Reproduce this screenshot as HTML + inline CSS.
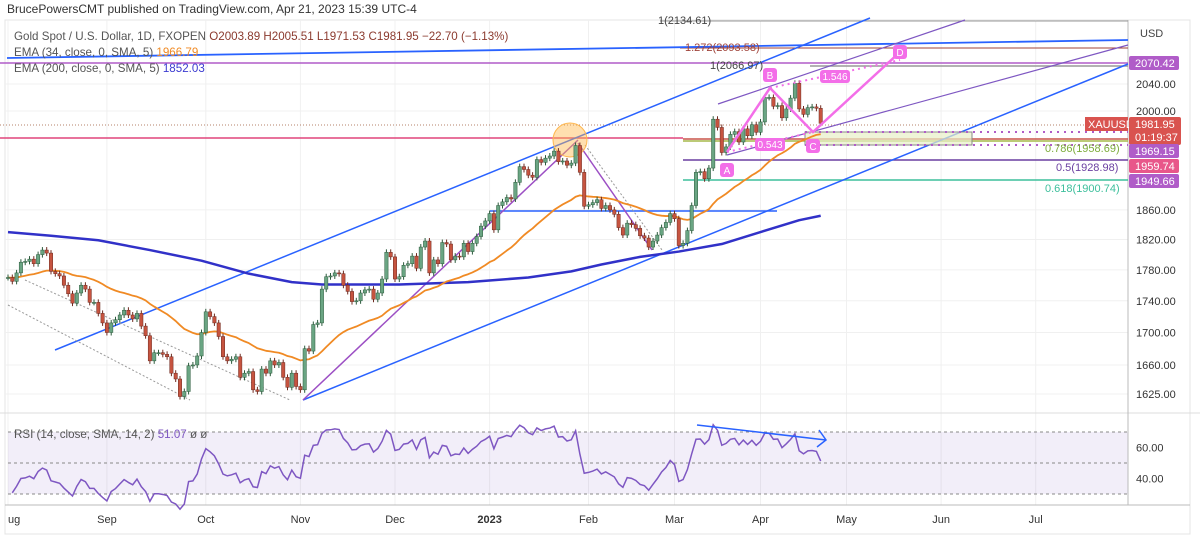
<!DOCTYPE html>
<html><head><meta charset="utf-8"><style>
html,body{margin:0;padding:0;background:#fff;width:1200px;height:540px;overflow:hidden}
svg{display:block;font-family:"Liberation Sans",sans-serif}
</style></head><body>
<svg id="c" width="1200" height="540" viewBox="0 0 1200 540">
<rect x="0" y="0" width="1200" height="540" fill="#fff"/>
<text x="7" y="13" font-size="12" fill="#333">BrucePowersCMT published on TradingView.com, Apr 21, 2023 15:39 UTC-4</text>
<rect x="5" y="20" width="1185" height="514" fill="none" stroke="#e4e4e4"/>
<g id="grid"></g>
<rect x="8" y="432" width="1120" height="62" fill="#7e57c2" fill-opacity="0.1"/>
<line x1="8" y1="432" x2="1128" y2="432" stroke="#888" stroke-dasharray="3,3"/>
<line x1="8" y1="463" x2="1128" y2="463" stroke="#888" stroke-dasharray="3,3"/>
<line x1="8" y1="494" x2="1128" y2="494" stroke="#888" stroke-dasharray="3,3"/>
<line x1="0" y1="413" x2="1200" y2="413" stroke="#ddd"/>
<line x1="1128" y1="20" x2="1128" y2="505" stroke="#bbb"/>
<line x1="5" y1="505" x2="1190" y2="505" stroke="#bbb"/>
<g id="draw">
 <line x1="0" y1="125" x2="1128" y2="125" stroke="#b5806a" stroke-dasharray="1,2"/>
 <line x1="0" y1="138" x2="683" y2="138" stroke="#e0457b" stroke-width="1.5"/>
 <line x1="683" y1="139" x2="1128" y2="139" stroke="#c8554a" stroke-width="1.5"/>
 <line x1="683" y1="141" x2="1128" y2="141" stroke="#a5b94a" stroke-width="1.5"/>
 <line x1="683" y1="160" x2="1128" y2="160" stroke="#6a3fa0" stroke-width="1.5"/>
 <line x1="683" y1="180" x2="1128" y2="180" stroke="#3dbf9c" stroke-width="1.5"/>
 <line x1="660" y1="21" x2="1128" y2="21" stroke="#999"/>
 <line x1="680" y1="48" x2="1128" y2="48" stroke="#a0433a"/>
 <line x1="0" y1="63" x2="1128" y2="63" stroke="#b05cc8" stroke-width="1.5"/>
 <line x1="810" y1="66" x2="1128" y2="66" stroke="#999" stroke-width="1.5"/>
 <line x1="7" y1="58" x2="1128" y2="40" stroke="#2962ff" stroke-width="1.8"/>
 <line x1="55" y1="350" x2="870" y2="18" stroke="#2962ff" stroke-width="1.5"/>
 <line x1="303" y1="400" x2="1128" y2="64" stroke="#2962ff" stroke-width="1.5"/>
 <line x1="490" y1="211" x2="777" y2="211" stroke="#2962ff" stroke-width="1.5"/>
 <line x1="303" y1="400" x2="578" y2="140" stroke="#9c4fc4" stroke-width="1.5"/>
 <line x1="578" y1="143" x2="652" y2="250" stroke="#9c4fc4" stroke-width="1.5"/>
 <line x1="8" y1="305" x2="190" y2="400" stroke="#999" stroke-dasharray="2,2"/>
 <line x1="25" y1="280" x2="290" y2="400" stroke="#999" stroke-dasharray="2,2"/>
 <line x1="585" y1="145" x2="662" y2="250" stroke="#999" stroke-dasharray="2,2"/>
 <line x1="718" y1="104" x2="965" y2="20" stroke="#7e57c2" stroke-width="1.2"/>
 <line x1="727" y1="155" x2="1128" y2="45" stroke="#7e57c2" stroke-width="1.2"/>
 <rect x="805" y="132" width="167" height="13" fill="#e8efc8" fill-opacity="0.7" stroke="#888"/>
 <line x1="805" y1="132" x2="1128" y2="132" stroke="#b05cc8" stroke-width="2" stroke-dasharray="2,5"/>
 <line x1="805" y1="145" x2="1128" y2="145" stroke="#b05cc8" stroke-width="2" stroke-dasharray="2,5"/>
 <circle cx="570" cy="140" r="17" fill="#ffb74d" fill-opacity="0.45" stroke="#ffb74d"/>
</g>
<g id="ema200"></g>
<g id="ema34"></g>
<g id="candles"></g>
<g id="abcd">
 <polyline points="727,152 770,88 813,132 900,52" fill="none" stroke="#f36ee8" stroke-width="2.5"/>
 <line x1="727" y1="152" x2="813" y2="132" stroke="#f36ee8" stroke-width="2" stroke-dasharray="2,4"/>
 <line x1="770" y1="88" x2="900" y2="60" stroke="#f36ee8" stroke-width="2" stroke-dasharray="2,4"/>
 <rect x="720" y="163" width="14" height="14" rx="3" fill="#f36ee8"/><text x="727" y="174" font-size="10" fill="#fff" text-anchor="middle">A</text>
 <rect x="763" y="68" width="14" height="14" rx="3" fill="#f36ee8"/><text x="770" y="79" font-size="10" fill="#fff" text-anchor="middle">B</text>
 <rect x="806" y="139" width="14" height="14" rx="3" fill="#f36ee8"/><text x="813" y="150" font-size="10" fill="#fff" text-anchor="middle">C</text>
 <rect x="893" y="45" width="14" height="14" rx="3" fill="#f36ee8"/><text x="900" y="56" font-size="10" fill="#fff" text-anchor="middle">D</text>
 <rect x="755" y="138" width="30" height="13" rx="3" fill="#f36ee8"/><text x="770" y="148" font-size="10" fill="#fff" text-anchor="middle">0.543</text>
 <rect x="820" y="70" width="30" height="13" rx="3" fill="#f36ee8"/><text x="835" y="80" font-size="10" fill="#fff" text-anchor="middle">1.546</text>
</g>
<g font-size="11">
 <text x="658" y="24" fill="#444">1(2134.61)</text>
 <text x="685" y="51" fill="#a0433a">1.272(2093.58)</text>
 <text x="710" y="69" fill="#444">1(2066.97)</text>
 <text x="1045" y="152" fill="#7cab3a">0.786(1958.69)</text>
 <text x="1056" y="171" fill="#6a3fa0">0.5(1928.98)</text>
 <text x="1045" y="192" fill="#3dbf9c">0.618(1900.74)</text>
</g>
<g font-size="11.6">
 <text x="14" y="40" fill="#555">Gold Spot / U.S. Dollar, 1D, FXOPEN <tspan fill="#8b3a2e">O2003.89 H2005.51 L1971.53 C1981.95 −22.70 (−1.13%)</tspan></text>
 <text x="14" y="56" fill="#555">EMA (34, close, 0, SMA, 5) <tspan fill="#f08a24">1966.79</tspan></text>
 <text x="14" y="72" fill="#555">EMA (200, close, 0, SMA, 5) <tspan fill="#3b3bd0">1852.03</tspan></text>
 <text x="14" y="438" fill="#555">RSI (14, close, SMA, 14, 2) <tspan fill="#7e57c2">51.07</tspan> ø ø</text>
</g>
<g id="rsi"></g>
<line x1="697" y1="425" x2="826" y2="440" stroke="#2962ff" stroke-width="1.5"/>
<polyline points="819,430 826,440 817,447" fill="none" stroke="#2962ff" stroke-width="1.5"/>
<g id="axis" font-size="11" fill="#333"></g>
<g id="tags" font-size="11">
 <text x="1140" y="37" fill="#444">USD</text>
 <rect x="1129" y="56" width="50" height="14" rx="2" fill="#b05cc8"/><text x="1135" y="67" fill="#fff">2070.42</text>
 <rect x="1085" y="117" width="43" height="14" fill="#d9534f"/><text x="1088" y="128" fill="#fff">XAUUSD</text>
 <rect x="1129" y="117" width="52" height="28" rx="2" fill="#d9534f"/><text x="1135" y="128" fill="#fff">1981.95</text><text x="1135" y="141" fill="#fff">01:19:37</text>
 <rect x="1129" y="144" width="50" height="14" rx="2" fill="#b05cc8"/><text x="1135" y="155" fill="#fff">1969.15</text>
 <rect x="1129" y="159" width="50" height="14" rx="2" fill="#e8578a"/><text x="1135" y="170" fill="#fff">1959.74</text>
 <rect x="1129" y="174" width="50" height="14" rx="2" fill="#b05cc8"/><text x="1135" y="185" fill="#fff">1949.66</text>
</g>
</svg>
<script>
var closes=[1770,1765,1776,1790,1791,1794,1788,1800,1806,1802,1778,1775,1772,1760,1749,1737,1750,1760,1755,1738,
1738,1724,1712,1700,1712,1716,1722,1728,1722,1717,1724,1708,1696,1665,1675,1675,1673,1670,1650,1643,
1622,1628,1659,1660,1671,1700,1726,1720,1712,1695,1670,1665,1667,1670,1645,1650,1652,1630,1628,1655,
1650,1665,1660,1663,1645,1633,1650,1634,1630,1680,1677,1710,1712,1755,1771,1772,1776,1775,1760,1752,
1739,1740,1750,1754,1755,1742,1750,1768,1803,1797,1768,1771,1786,1788,1798,1782,1810,1818,1776,1793,
1788,1816,1814,1793,1798,1797,1815,1804,1815,1824,1838,1845,1855,1833,1866,1871,1877,1875,1898,1920,
1916,1908,1905,1930,1926,1932,1935,1942,1927,1928,1922,1925,1950,1912,1865,1867,1870,1874,1862,1866,
1860,1854,1836,1826,1842,1840,1835,1825,1822,1810,1818,1826,1836,1843,1855,1848,1812,1815,1832,1866,
1912,1913,1903,1918,1988,1976,1940,1948,1966,1970,1955,1974,1964,1980,1969,1984,2020,2020,2007,2008,
1990,2003,2019,2041,2003,1995,2005,2006,2004,1982];
var ema200Vals=[1830,1825,1819,1806,1792,1775,1764,1761,1761,1764,1770,1778,1787,1797,1804,1814,1830,1846,1852];
var ema200Bars=[0,10,21,33,45,56,66,73,91,107,121,131,138,147,156,166,175,184,189];
var monthLabels=["ug","Sep","Oct","Nov","Dec","2023","Feb","Mar","Apr","May","Jun","Jul"];
var monthBars=[0,23,46,68,90,112,135,155,175,195,217,239];
var priceTicks=[2040,2000,1860,1820,1780,1740,1700,1660,1625];
var rsiTicks=[60,40];
var NS="http://www.w3.org/2000/svg";
function X(i){return 8+i*4.3;}
function Y(p){return 84+1363*Math.log(2040/p);}
function RY(r){return 463-(r-50)*1.55;}
function mk(t,a,parent){var e=document.createElementNS(NS,t);for(var k in a)e.setAttribute(k,a[k]);parent.appendChild(e);return e;}
var grid=document.getElementById('grid'),axis=document.getElementById('axis');
priceTicks.forEach(function(p){
 var l=mk('line',{x1:5,x2:1128,y1:Y(p),y2:Y(p),stroke:'#f0f0f0'},grid);
 
 
 var t=mk('text',{x:1136,y:Y(p)+4},axis);t.textContent=p.toFixed(2);
 
 
});
rsiTicks.forEach(function(r){
 var t=mk('text',{x:1136,y:RY(r)+4},axis);t.textContent=r.toFixed(2);
 
 
});
monthLabels.forEach(function(m,k){
 var x=X(monthBars[k]);
 var l=mk('line',{x1:x,x2:x,y1:20,y2:505,stroke:'#f0f0f0'},grid);
 
 
 var t=mk('text',{x:x,y:523,'text-anchor':k==0?'start':'middle','font-weight':m=='2023'?'bold':'normal'},axis);t.textContent=m;
 
 
});
var cg=document.getElementById('candles');
closes.forEach(function(c,i){
 var o=i?closes[i-1]:c; var up=c>=o;
 var top=Y(Math.max(o,c)),bot=Y(Math.min(o,c));
 var w=mk('line',{x1:X(i),x2:X(i),y1:top-3,y2:bot+3,stroke:up?'#2b5a3b':'#6e2a20'},cg);
 
 
 var r=mk('rect',{x:X(i)-1.7,y:top,width:3.4,height:Math.max(1,bot-top),fill:up?'#6aa583':'#c65440',stroke:up?'#2b5a3b':'#6e2a20','stroke-width':0.5},cg);
 
 
});
var e=closes[0],pts=[];var a=2/35;
closes.forEach(function(c,i){e=i?e+a*(c-e):c;pts.push(X(i)+','+Y(e));});
var p34=mk('polyline',{points:pts.join(' '),fill:'none',stroke:'#f08a24','stroke-width':1.8,'stroke-linejoin':'round'},document.getElementById('ema34'));


var p2=ema200Vals.map(function(v,k){return X(ema200Bars[k])+','+Y(v);});
var p200=mk('polyline',{points:p2.join(' '),fill:'none',stroke:'#3131c8','stroke-width':2.5,'stroke-linejoin':'round'},document.getElementById('ema200'));


var ag=0,al=0,rp=[];
for(var i=1;i<closes.length;i++){var d=closes[i]-closes[i-1];var g=d>0?d:0,l=d<0?-d:0;
 if(i==1){ag=g+4;al=l+4;}else{ag=(ag*13+g)/14;al=(al*13+l)/14;}
 var rsi=100-100/(1+ag/al);rp.push(X(i)+','+RY(rsi));}
var pr=mk('polyline',{points:rp.join(' '),fill:'none',stroke:'#7e57c2','stroke-width':1.5},document.getElementById('rsi'));


</script>
</body></html>
